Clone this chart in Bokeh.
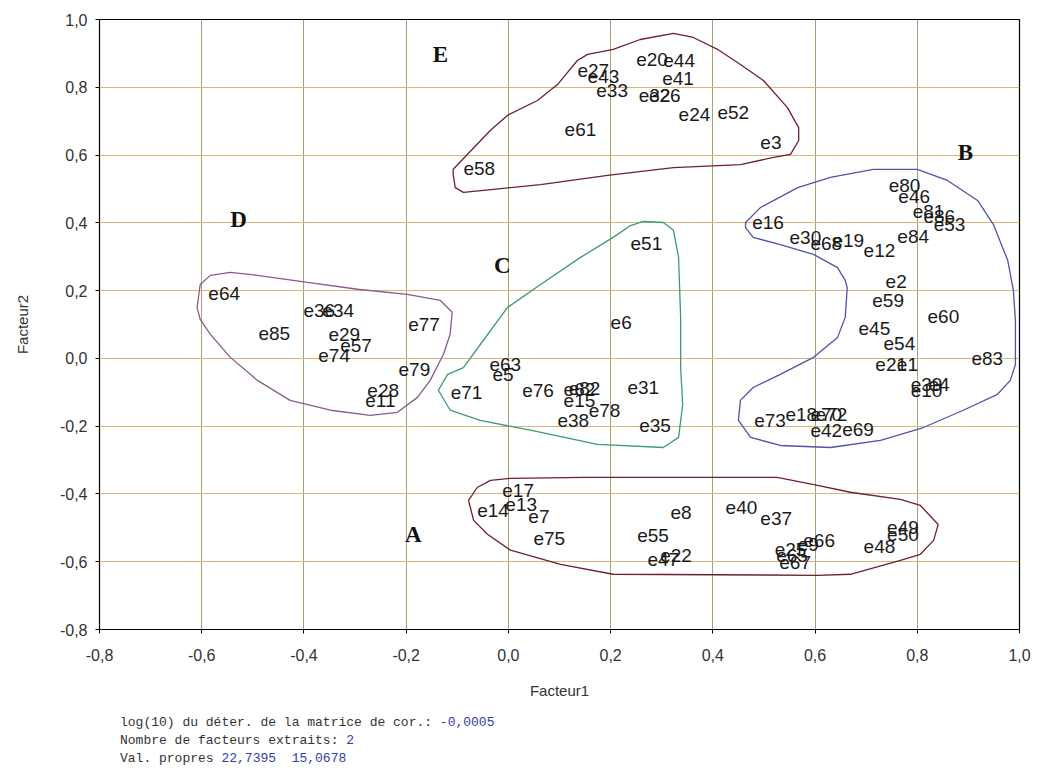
from bokeh.plotting import figure
from bokeh.models import Range1d, FixedTicker, CustomJSTickFormatter, Div, ColumnDataSource
from bokeh.layouts import column
from bokeh.core.properties import value
from bokeh.embed import file_html
from bokeh.resources import INLINE

# ---- data: observation labels and factor loadings (label anchored at left-middle) ----
labels_E = ["e27", "e43", "e20", "e44", "e41", "e33", "e32", "e26", "e24", "e52", "e61", "e3", "e58"]
f1_E = [0.135, 0.155, 0.250, 0.303, 0.301, 0.172, 0.255, 0.275, 0.333, 0.409, 0.110, 0.493, -0.088]
f2_E = [0.850, 0.832, 0.882, 0.879, 0.826, 0.791, 0.776, 0.776, 0.720, 0.726, 0.676, 0.637, 0.560]

labels_B = ["e80", "e46", "e81", "e86", "e53", "e16", "e30", "e68", "e19", "e12", "e84", "e2",
            "e59", "e60", "e45", "e54", "e21", "e1", "e83", "e39", "e4", "e10",
            "e73", "e18", "e70", "e72", "e42", "e69"]
f1_B = [0.744, 0.763, 0.791, 0.812, 0.832, 0.477, 0.550, 0.591, 0.634, 0.695, 0.761, 0.738,
        0.712, 0.820, 0.685, 0.734, 0.718, 0.760, 0.906, 0.787, 0.822, 0.787,
        0.481, 0.542, 0.591, 0.601, 0.591, 0.653]
f2_B = [0.510, 0.478, 0.434, 0.419, 0.395, 0.401, 0.357, 0.339, 0.348, 0.318, 0.360, 0.227,
        0.171, 0.124, 0.089, 0.044, -0.018, -0.018, 0.000, -0.077, -0.077, -0.094,
        -0.183, -0.165, -0.165, -0.165, -0.212, -0.209]

labels_D = ["e64", "e85", "e36", "e34", "e29", "e57", "e74", "e77", "e79", "e28", "e11"]
f1_D = [-0.587, -0.489, -0.401, -0.364, -0.352, -0.329, -0.372, -0.196, -0.215, -0.276, -0.280]
f2_D = [0.192, 0.074, 0.142, 0.141, 0.070, 0.038, 0.009, 0.101, -0.032, -0.095, -0.123]

labels_C = ["e51", "e6", "e63", "e5", "e71", "e76", "e62", "e82", "e15", "e78", "e38", "e31", "e35"]
f1_C = [0.239, 0.200, -0.037, -0.031, -0.113, 0.027, 0.108, 0.118, 0.108, 0.157, 0.096, 0.233, 0.256]
f2_C = [0.339, 0.106, -0.018, -0.047, -0.100, -0.095, -0.091, -0.088, -0.124, -0.153, -0.183, -0.086, -0.198]

labels_A = ["e17", "e13", "e14", "e7", "e75", "e8", "e55", "e47", "e22", "e40", "e37",
            "e66", "e25", "e9", "e65", "e67", "e48", "e49", "e50"]
f1_A = [-0.012, -0.006, -0.061, 0.039, 0.049, 0.317, 0.252, 0.272, 0.297, 0.425, 0.493,
        0.577, 0.521, 0.566, 0.524, 0.530, 0.695, 0.741, 0.741]
f2_A = [-0.389, -0.430, -0.448, -0.466, -0.531, -0.454, -0.522, -0.593, -0.581, -0.440, -0.472,
        -0.537, -0.563, -0.549, -0.581, -0.602, -0.555, -0.499, -0.519]

# ---- group letters ----
group_names = ["E", "B", "D", "C", "A"]
group_f1 = [-0.133, 0.894, -0.528, -0.012, -0.186]
group_f2 = [0.897, 0.608, 0.410, 0.274, -0.519]

# ---- hand-drawn group outlines (factor coordinates) ----
outline_E_f1 = [-0.108, -0.035, -0.002, 0.057, 0.096, 0.135, 0.155, 0.205, 0.258, 0.323, 0.362, 0.409, 0.454,
                0.499, 0.546, 0.568, 0.568, 0.552, 0.519, 0.454, 0.323, 0.194, 0.063, -0.029, -0.088, -0.104, -0.108]
outline_E_f2 = [0.558, 0.673, 0.717, 0.761, 0.808, 0.879, 0.897, 0.912, 0.941, 0.959, 0.947, 0.912, 0.867,
                0.820, 0.740, 0.681, 0.643, 0.602, 0.593, 0.572, 0.563, 0.540, 0.513, 0.499, 0.490, 0.504, 0.543]
outline_B_f1 = [0.464, 0.493, 0.566, 0.630, 0.714, 0.800, 0.859, 0.918, 0.949, 0.977, 0.988, 0.992, 0.992,
                0.982, 0.957, 0.890, 0.812, 0.728, 0.630, 0.532, 0.474, 0.450, 0.454, 0.479, 0.532, 0.597,
                0.644, 0.659, 0.663, 0.659, 0.644, 0.597, 0.532, 0.479, 0.464]
outline_B_f2 = [0.401, 0.445, 0.504, 0.534, 0.558, 0.558, 0.525, 0.466, 0.395, 0.289, 0.201, 0.112, -0.018,
                -0.065, -0.106, -0.153, -0.204, -0.242, -0.263, -0.257, -0.233, -0.183, -0.124, -0.086, -0.047, 0.003,
                0.062, 0.121, 0.209, 0.230, 0.268, 0.307, 0.336, 0.357, 0.386]
outline_D_f1 = [-0.609, -0.603, -0.583, -0.544, -0.491, -0.393, -0.295, -0.198, -0.133, -0.110, -0.114,
                -0.127, -0.153, -0.178, -0.217, -0.270, -0.348, -0.427, -0.491, -0.544, -0.583, -0.603]
outline_D_f2 = [0.150, 0.218, 0.245, 0.254, 0.245, 0.224, 0.204, 0.189, 0.171, 0.136, 0.071,
                0.012, -0.065, -0.115, -0.159, -0.168, -0.153, -0.124, -0.065, 0.003, 0.071, 0.115]
outline_C_f1 = [0.264, 0.303, 0.323, 0.333, 0.337, 0.337, 0.341, 0.333, 0.303, 0.174, 0.043, -0.055,
                -0.114, -0.137, -0.119, -0.088, -0.055, -0.002, 0.063, 0.141, 0.205, 0.239]
outline_C_f2 = [0.404, 0.401, 0.378, 0.298, 0.121, -0.027, -0.136, -0.233, -0.263, -0.254, -0.212, -0.183,
                -0.153, -0.094, -0.047, -0.027, 0.041, 0.150, 0.218, 0.298, 0.357, 0.392]
outline_A_f1 = [-0.078, -0.061, -0.035, 0.004, 0.147, 0.376, 0.526, 0.605, 0.669, 0.767, 0.806, 0.841,
                0.832, 0.806, 0.767, 0.669, 0.605, 0.205, 0.102, 0.004, -0.041, -0.068]
outline_A_f2 = [-0.419, -0.381, -0.360, -0.354, -0.351, -0.351, -0.351, -0.375, -0.395, -0.416, -0.434, -0.490,
                -0.537, -0.578, -0.596, -0.637, -0.640, -0.637, -0.608, -0.566, -0.519, -0.478]

axis_ticks = [-0.8, -0.6, -0.4, -0.2, 0.0, 0.2, 0.4, 0.6, 0.8, 1.0]

log_det = "-0,0005"
n_factors = 2
eigenvalues = [22.7395, 15.0678]

# ---- figure ----
p = figure(width=1037, height=707, output_backend="svg", toolbar_location=None,
           x_range=Range1d(-0.8, 1.0), y_range=Range1d(-0.8, 1.0),
           min_border_left=99, min_border_right=18, min_border_top=19, min_border_bottom=78,
           background_fill_color="white", border_fill_color="white")
p.outline_line_color = "black"
p.outline_line_width = 1.2

fmt = CustomJSTickFormatter(code="""
var s = Math.abs(tick) < 1e-9 ? '0.0' : tick.toFixed(1);
return s.replace('.', ',');
""")
for ax in (p.xaxis[0], p.yaxis[0]):
    ax.ticker = FixedTicker(ticks=axis_ticks)
    ax.formatter = fmt
    ax.minor_tick_line_color = None
    ax.major_tick_in = 0
    ax.major_tick_out = 4
    ax.axis_line_color = "black"
    ax.major_label_text_font = "Liberation Sans"
    ax.major_label_text_font_size = "16px"
    ax.major_label_text_color = "#333333"
    ax.axis_label_text_font = "Liberation Sans"
    ax.axis_label_text_font_size = "15px"
    ax.axis_label_text_font_style = "normal"
    ax.axis_label_text_color = "#333333"

p.xaxis.axis_label = "Facteur1"
p.yaxis.axis_label = "Facteur2"
p.xaxis.major_label_standoff = 15
p.xaxis.axis_label_standoff = 18
p.yaxis.major_label_standoff = 8
p.yaxis.axis_label_standoff = 26

p.xgrid.ticker = FixedTicker(ticks=axis_ticks)
p.ygrid.ticker = FixedTicker(ticks=axis_ticks)
p.xgrid.grid_line_color = "#a8a078"
p.ygrid.grid_line_color = "#dcb477"
p.xgrid.grid_line_width = 1
p.ygrid.grid_line_width = 1

# outlines
outline_xs = [outline_E_f1, outline_B_f1, outline_D_f1, outline_C_f1, outline_A_f1]
outline_ys = [outline_E_f2, outline_B_f2, outline_D_f2, outline_C_f2, outline_A_f2]
outline_colors = ["#6e2030", "#5252a6", "#8a5a8e", "#3c9a78", "#6e2030"]
p.patches(xs=outline_xs, ys=outline_ys, fill_color=None, line_color=outline_colors, line_width=1.3)

# point labels
all_labels = labels_E + labels_B + labels_D + labels_C + labels_A
all_f1 = f1_E + f1_B + f1_D + f1_C + f1_A
all_f2 = f2_E + f2_B + f2_D + f2_C + f2_A
src = ColumnDataSource(dict(x=all_f1, y=all_f2, t=all_labels))
p.text(x="x", y="y", text="t", source=src, text_align="left", text_baseline="middle",
       text_font=value("Liberation Sans"), text_font_size="19px", text_color="#1a1a1a")

# group letters
p.text(x=group_f1, y=group_f2, text=group_names, text_align="center", text_baseline="middle",
       text_font=value("Liberation Serif"), text_font_size="23px", text_font_style="bold",
       text_color="#111111")

ev = "&nbsp;&nbsp;".join(f"{v:.4f}".replace(".", ",") for v in eigenvalues)
blue = "#3040a8"
html = (
    f"<div style=\"font-family:'Liberation Mono',monospace;font-size:13px;line-height:18px;"
    f"color:#333;padding-left:120px;white-space:nowrap\">"
    f"log(10) du d&eacute;ter. de la matrice de cor.: <span style='color:{blue}'>{log_det}</span><br>"
    f"Nombre de facteurs extraits: <span style='color:{blue}'>{n_factors}</span><br>"
    f"Val. propres <span style='color:{blue}'>{ev}</span></div>"
)
div = Div(text=html, width=1000, height=60, margin=(7, 0, 0, 0))

layout = column(p, div, spacing=0)
open("out.html", "w").write(file_html(layout, INLINE))
